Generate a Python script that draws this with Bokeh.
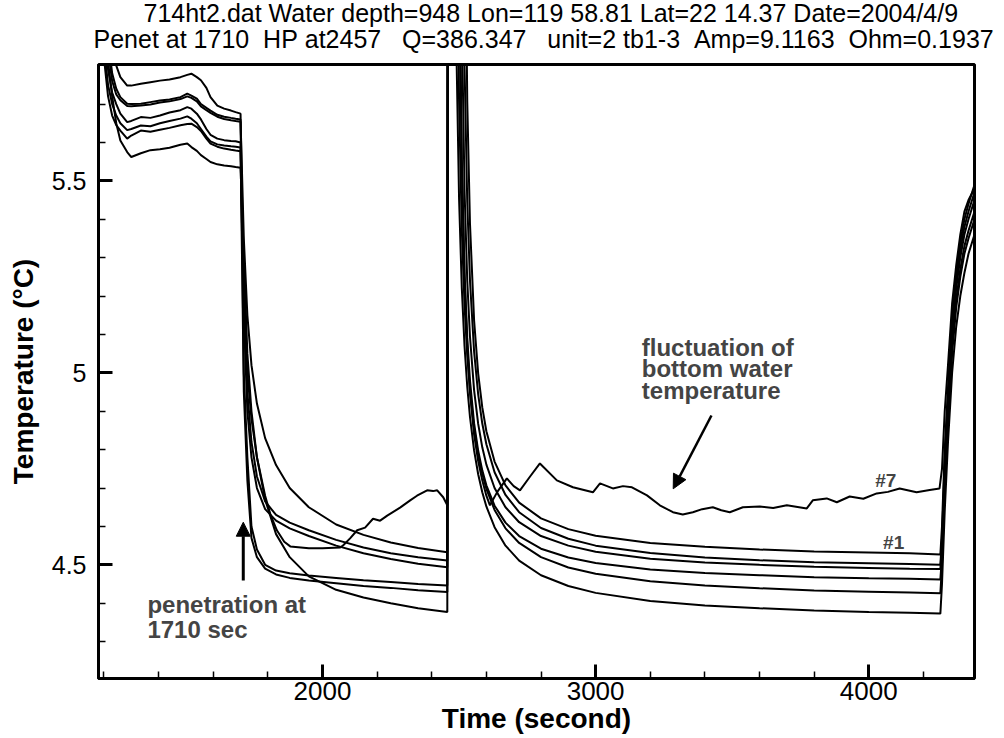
from bokeh.plotting import figure
from bokeh.layouts import column
from bokeh.models import FixedTicker, Label, Arrow, NormalHead, Range1d
from bokeh.embed import file_html
from bokeh.resources import INLINE

# ---------------- header text ----------------
header_line1 = "714ht2.dat Water depth=948 Lon=119 58.81 Lat=22 14.37 Date=2004/4/9"
header_line2 = "Penet at 1710  HP at2457   Q=386.347   unit=2 tb1-3  Amp=9.1163  Ohm=0.1937"
x_title = "Time (second)"
y_title = "Temperature (°C)"

# ---------------- axes ----------------
x_ticks = [2000, 3000, 4000]
x_minor = [1200, 1400, 1600, 1800, 2000, 2200, 2400, 2600, 2800, 3000, 3200, 3400, 3600, 3800, 4000, 4200]
y_ticks = [4.5, 5, 5.5]
y_tick_labels = ["4.5", "5", "5.5"]
y_minor = [4.3, 4.4, 4.5, 4.6, 4.7, 4.8, 4.9, 5.0, 5.1, 5.2, 5.3, 5.4, 5.5, 5.6, 5.7]

# ---------------- data (time in s, temperature in C) ----------------
# before penetration (probe in water)
time_pre = [1180, 1200, 1215, 1230, 1245, 1260, 1285, 1300, 1335, 1370, 1405, 1440,
            1480, 1505, 1520, 1540, 1555, 1575, 1590, 1615, 1640, 1665, 1682, 1700]
pre_t1 = [6.3, 6.05, 5.87, 5.78, 5.74, 5.718, 5.701, 5.700, 5.701, 5.705, 5.709, 5.712,
          5.718, 5.727, 5.722, 5.714, 5.700, 5.690, 5.683, 5.672, 5.667, 5.664, 5.662, 5.660]
pre_t2 = [6.1, 5.9, 5.79, 5.73, 5.70, 5.675, 5.653, 5.656, 5.666, 5.664, 5.670, 5.678,
          5.684, 5.692, 5.688, 5.675, 5.660, 5.635, 5.620, 5.610, 5.606, 5.604, 5.603, 5.600]
pre_t3 = [6.0, 5.82, 5.72, 5.67, 5.645, 5.631, 5.610, 5.618, 5.631, 5.628, 5.633, 5.638,
          5.645, 5.648, 5.649, 5.640, 5.630, 5.610, 5.597, 5.589, 5.584, 5.581, 5.579, 5.577]
pre_t4 = [6.25, 6.0, 5.84, 5.76, 5.725, 5.71, 5.695, 5.694, 5.696, 5.699, 5.704, 5.707,
          5.713, 5.72, 5.716, 5.707, 5.694, 5.684, 5.677, 5.667, 5.661, 5.658, 5.656, 5.654]
pre_t5 = [6.05, 5.85, 5.75, 5.70, 5.67, 5.65, 5.632, 5.635, 5.644, 5.642, 5.650, 5.656,
          5.662, 5.668, 5.662, 5.650, 5.635, 5.615, 5.603, 5.595, 5.592, 5.590, 5.589, 5.587]
pre_t6 = [6.1, 5.92, 5.81, 5.72, 5.65, 5.605, 5.575, 5.562, 5.572, 5.580, 5.582, 5.586,
          5.594, 5.597, 5.588, 5.578, 5.567, 5.557, 5.549, 5.543, 5.540, 5.538, 5.536, 5.534]
pre_t7 = [6.2, 6.05, 5.93, 5.85, 5.80, 5.77, 5.748, 5.748, 5.753, 5.757, 5.761, 5.764,
          5.770, 5.776, 5.779, 5.770, 5.762, 5.742, 5.718, 5.696, 5.688, 5.683, 5.679, 5.675]

# after penetration, frictional decay
time_post1 = [1712, 1725, 1740, 1760, 1790, 1830, 1880, 1950, 2050, 2150, 2250, 2350, 2457]
post1_t1 = [5.35, 5.15, 5.02, 4.92, 4.83, 4.76, 4.70, 4.65, 4.605, 4.578, 4.558, 4.544, 4.533]
post1_t2 = [5.2, 4.95, 4.82, 4.73, 4.665, 4.63, 4.61, 4.59, 4.565, 4.545, 4.53, 4.52, 4.511]
post1_t3 = [5.15, 4.90, 4.78, 4.70, 4.645, 4.615, 4.595, 4.575, 4.55, 4.53, 4.515, 4.503, 4.494]
post1_t4 = [5.0, 4.78, 4.60, 4.54, 4.50, 4.485, 4.478, 4.472, 4.466, 4.46, 4.455, 4.45, 4.446]
post1_t5 = [4.95, 4.72, 4.57, 4.52, 4.49, 4.475, 4.466, 4.459, 4.452, 4.445, 4.44, 4.434, 4.429]
post1_t6 = [5.3, 5.05, 4.90, 4.78, 4.67, 4.58, 4.52, 4.47, 4.435, 4.415, 4.40, 4.387, 4.377]
time_bw1 = [1712, 1725, 1740, 1760, 1790, 1810, 1833, 1860, 1882, 1950, 2000, 2065, 2076, 2101,
            2127, 2156, 2185, 2211, 2237, 2284, 2321, 2346, 2383, 2405, 2420, 2442, 2457]
post1_t7 = [5.2, 5.0, 4.88, 4.78, 4.68, 4.63, 4.59, 4.56, 4.548, 4.543, 4.543, 4.545, 4.551, 4.569,
            4.590, 4.597, 4.620, 4.615, 4.628, 4.649, 4.668, 4.680, 4.694, 4.692, 4.694, 4.676, 4.655]

# heat pulse and its decay
time_post2 = [2460, 2490, 2500, 2510, 2520, 2530, 2540, 2555, 2570, 2585, 2600, 2630,
              2670, 2720, 2800, 2900, 3000, 3200, 3400, 3600, 3800, 4000, 4150, 4262]
post2_t1 = [7.0, 8.0, 8.0, 8.0, 6.385, 5.706, 5.388, 5.137, 4.998, 4.91, 4.848, 4.769,
            4.707, 4.662, 4.621, 4.593, 4.576, 4.557, 4.547, 4.540, 4.535, 4.532, 4.530, 4.527]
post2_t2 = [7.0, 8.0, 8.0, 6.58, 5.802, 5.445, 5.24, 5.056, 4.944, 4.868, 4.814, 4.741,
            4.682, 4.637, 4.596, 4.568, 4.550, 4.531, 4.519, 4.512, 4.507, 4.504, 4.502, 4.500]
post2_t3 = [7.0, 8.0, 7.07, 5.921, 5.476, 5.24, 5.094, 4.955, 4.867, 4.806, 4.761, 4.70,
            4.65, 4.611, 4.575, 4.550, 4.534, 4.516, 4.506, 4.500, 4.495, 4.492, 4.490, 4.489]
post2_t4 = [7.0, 8.0, 6.181, 5.556, 5.262, 5.091, 4.98, 4.869, 4.797, 4.746, 4.707, 4.654,
            4.61, 4.575, 4.542, 4.519, 4.505, 4.488, 4.479, 4.473, 4.468, 4.465, 4.464, 4.462]
post2_t5 = [7.0, 6.395, 5.708, 5.374, 5.176, 5.046, 4.953, 4.855, 4.787, 4.737, 4.698, 4.643,
            4.595, 4.557, 4.52, 4.493, 4.477, 4.457, 4.446, 4.439, 4.433, 4.430, 4.428, 4.426]
post2_t6 = [7.0, 5.854, 5.454, 5.222, 5.07, 4.964, 4.885, 4.798, 4.736, 4.689, 4.652, 4.598,
            4.55, 4.511, 4.473, 4.445, 4.427, 4.406, 4.394, 4.387, 4.381, 4.377, 4.375, 4.373]
time_bw2 = [2460, 2490, 2500, 2510, 2520, 2530, 2540, 2555, 2570, 2585, 2600, 2613, 2640, 2675,
            2700, 2723, 2760, 2796, 2858, 2917, 2990, 3016, 3063, 3100, 3133, 3188, 3235, 3283,
            3319, 3356, 3390, 3429, 3460, 3491, 3539, 3601, 3650, 3700, 3773, 3795, 3846, 3883,
            3930, 3980, 4029, 4070, 4113, 4175, 4223, 4259]
post2_t7 = [7.0, 6.5, 6.0, 5.55, 5.25, 5.07, 4.95, 4.84, 4.77, 4.72, 4.68, 4.655, 4.69, 4.725,
            4.705, 4.694, 4.73, 4.764, 4.72, 4.702, 4.689, 4.712, 4.699, 4.705, 4.702, 4.681, 4.655, 4.637,
            4.631, 4.637, 4.645, 4.65, 4.642, 4.637, 4.65, 4.652, 4.648, 4.655, 4.647, 4.668, 4.673, 4.663,
            4.678, 4.672, 4.686, 4.690, 4.699, 4.689, 4.695, 4.699]

# pull-out
time_out = [4268, 4278, 4290, 4305, 4320, 4335, 4350, 4365, 4387]
out_t1 = [4.60, 4.80, 4.96, 5.14, 5.26, 5.34, 5.40, 5.44, 5.49]
out_t2 = [4.57, 4.77, 4.94, 5.12, 5.24, 5.32, 5.38, 5.42, 5.47]
out_t3 = [4.55, 4.75, 4.92, 5.10, 5.22, 5.30, 5.36, 5.40, 5.45]
out_t4 = [4.52, 4.72, 4.89, 5.07, 5.19, 5.27, 5.33, 5.37, 5.42]
out_t5 = [4.50, 4.70, 4.87, 5.05, 5.17, 5.25, 5.31, 5.35, 5.40]
out_t6 = [4.45, 4.64, 4.82, 5.00, 5.12, 5.20, 5.26, 5.31, 5.36]
out_t7 = [4.75, 4.90, 5.02, 5.18, 5.28, 5.36, 5.42, 5.45, 5.48]

FONT = "Liberation Sans"
nb = lambda s: s.replace(" ", "\u00a0")

# ---------------- header strip (pixel coordinates, y downwards) ----------------
head = figure(width=1004, height=62, x_range=Range1d(0, 1004), y_range=Range1d(62, 0),
              output_backend="svg", toolbar_location=None,
              min_border_left=0, min_border_right=0, min_border_top=0, min_border_bottom=0,
              x_axis_location=None, y_axis_location=None)
head.frame_align = False
head.grid.visible = False
head.outline_line_color = None
head.background_fill_color = "white"
head.border_fill_color = "white"
head.add_layout(Label(x=143, y=12, text=nb(header_line1), text_font=FONT, text_font_size="25px",
                      text_baseline="middle", text_align="left", text_color="black"))
head.add_layout(Label(x=93, y=38, text=nb(header_line2), text_font=FONT, text_font_size="25px",
                      text_baseline="middle", text_align="left", text_color="black"))

# ---------------- main chart ----------------
p = figure(width=1004, height=676, x_range=Range1d(1180, 4387), y_range=Range1d(4.204, 5.803),
           output_backend="svg", toolbar_location=None,
           min_border_left=98, min_border_right=30, min_border_top=2, min_border_bottom=60)
p.frame_align = False
p.grid.visible = False
p.outline_line_color = "black"
p.outline_line_width = 3
p.background_fill_color = "white"
p.border_fill_color = "white"

series = [
    (time_pre + time_post1 + time_post2 + time_out, pre_t1 + post1_t1 + post2_t1 + out_t1),
    (time_pre + time_post1 + time_post2 + time_out, pre_t2 + post1_t2 + post2_t2 + out_t2),
    (time_pre + time_post1 + time_post2 + time_out, pre_t3 + post1_t3 + post2_t3 + out_t3),
    (time_pre + time_post1 + time_post2 + time_out, pre_t4 + post1_t4 + post2_t4 + out_t4),
    (time_pre + time_post1 + time_post2 + time_out, pre_t5 + post1_t5 + post2_t5 + out_t5),
    (time_pre + time_post1 + time_post2 + time_out, pre_t6 + post1_t6 + post2_t6 + out_t6),
    (time_pre + time_bw1 + time_bw2 + time_out, pre_t7 + post1_t7 + post2_t7 + out_t7),
]
for xs, ys in series:
    p.line(xs, ys, line_color="black", line_width=2)

for ax in (p.xaxis[0], p.yaxis[0]):
    ax.axis_line_width = 3
    ax.axis_line_color = "black"
    ax.major_tick_in = 14
    ax.major_tick_out = 0
    ax.minor_tick_in = 7
    ax.minor_tick_out = 0
    ax.major_tick_line_width = 3
    ax.minor_tick_line_width = 1.5
    ax.major_label_text_font = FONT
    ax.major_label_text_color = "black"
    ax.axis_label_text_font = FONT
    ax.axis_label_text_font_size = "28px"
    ax.axis_label_text_font_style = "bold"
    ax.axis_label_text_color = "black"

p.xaxis.major_label_text_font_size = "26px"
p.yaxis.major_label_text_font_size = "25px"
p.xaxis.ticker = FixedTicker(ticks=x_ticks, minor_ticks=x_minor)
p.yaxis.ticker = FixedTicker(ticks=y_ticks, minor_ticks=y_minor)
p.yaxis.major_label_overrides = dict(zip(y_ticks, y_tick_labels))
p.xaxis.axis_label = x_title
p.yaxis.axis_label = y_title
p.xaxis.major_label_standoff = 3
p.xaxis.axis_label_standoff = 0
p.yaxis.major_label_standoff = 12
p.yaxis.axis_label_standoff = 10

# annotations
for txt, yy in zip(["fluctuation of", "bottom water", "temperature"], [5.067, 5.011, 4.954]):
    p.add_layout(Label(x=3169, y=yy, text=txt, text_font=FONT, text_font_size="24px",
                       text_font_style="bold", text_baseline="middle", text_align="left"))
for txt, yy in zip(["penetration at", "1710 sec"], [4.397, 4.332]):
    p.add_layout(Label(x=1359, y=yy, text=txt, text_font=FONT, text_font_size="24px",
                       text_font_style="bold", text_baseline="middle", text_align="left"))
p.add_layout(Label(x=4062, y=4.720, text="#7", text_font=FONT, text_font_size="19px",
                   text_font_style="bold", text_baseline="middle", text_align="center"))
p.add_layout(Label(x=4091, y=4.559, text="#1", text_font=FONT, text_font_size="19px",
                   text_font_style="bold", text_baseline="middle", text_align="center"))

p.add_layout(Arrow(end=NormalHead(size=14, fill_color="black", line_color="black"),
                   x_start=3424, y_start=4.889, x_end=3284, y_end=4.698,
                   line_width=2.5, line_color="black"))
p.add_layout(Arrow(end=NormalHead(size=14, fill_color="black", line_color="black"),
                   x_start=1710, y_start=4.459, x_end=1710, y_end=4.611,
                   line_width=3, line_color="black"))

layout = column(head, p, spacing=0)
open("out.html", "w").write(file_html(layout, INLINE))
